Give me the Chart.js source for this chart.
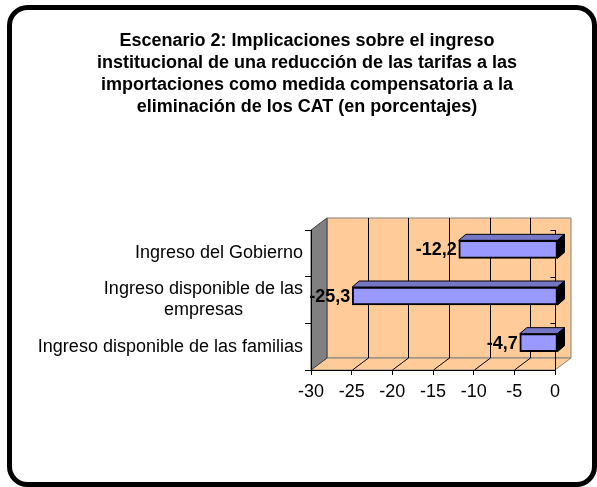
<!DOCTYPE html>
<html>
<head>
<meta charset="utf-8">
<script src="https://cdn.jsdelivr.net/npm/chart.js@4.4.0/dist/chart.umd.min.js"></script>
<style>
    html, body { margin: 0; padding: 0; background: #fff; }
    canvas { display: block; }
</style>
</head>
<body>
<canvas id="myChart" width="597" height="487"></canvas>
<script>
// data
const titleLines = [
    'Escenario 2: Implicaciones sobre el ingreso',
    'institucional de una reducción de las tarifas a las',
    'importaciones como medida compensatoria a la',
    'eliminación de los CAT (en porcentajes)'
];
const categories = [
    ['Ingreso del Gobierno'],
    ['Ingreso disponible de las', 'empresas'],
    ['Ingreso disponible de las familias']
];
const values = [-12.2, -25.3, -4.7];
const valueLabels = ['-12,2', '-25,3', '-4,7'];
const xMin = -30;
const xMax = 0;
const xStep = 5;

const FONT = "'Liberation Sans', Arial, sans-serif";
const depth = { dx: 16, dy: -12 };   // walls
const barDepth = { dx: 7, dy: -6 };  // bars
const barShift = { dx: 3, dy: -4 };

function poly(ctx, pts, fill, stroke) {
    ctx.beginPath();
    ctx.moveTo(pts[0][0], pts[0][1]);
    for (let i = 1; i < pts.length; i++) ctx.lineTo(pts[i][0], pts[i][1]);
    ctx.closePath();
    if (fill) { ctx.fillStyle = fill; ctx.fill(); }
    if (stroke) { ctx.strokeStyle = stroke; ctx.lineWidth = 1; ctx.stroke(); }
}

const walls3d = {
    id: 'walls3d',
    beforeDraw(chart) {
        const ctx = chart.ctx;
        const { left, right, top, bottom } = chart.chartArea;
        const { dx, dy } = depth;
        const xs = chart.scales.x;
        ctx.save();
        // frame
        ctx.lineWidth = 5;
        ctx.strokeStyle = '#000';
        ctx.beginPath();
        ctx.roundRect(9.5, 7.5, 585, 477, 18);
        ctx.stroke();

        // title
        ctx.fillStyle = '#000';
        ctx.font = 'bold 18px ' + FONT;
        ctx.textAlign = 'center';
        ctx.textBaseline = 'middle';
        titleLines.forEach((t, i) => ctx.fillText(t, 307, 41 + i * 22));

        // back wall, floor, side wall
        poly(ctx, [[left + dx, top + dy], [right + dx, top + dy], [right + dx, bottom + dy], [left + dx, bottom + dy]], '#FFCC99', '#808080');
        poly(ctx, [[left, bottom], [left + dx, bottom + dy], [right + dx, bottom + dy], [right, bottom]], '#FFCC99', '#808080');
        poly(ctx, [[left, top], [left + dx, top + dy], [left + dx, bottom + dy], [left, bottom]], '#808080', '#404040');

        // grid lines on the wall and the floor
        ctx.strokeStyle = '#000';
        ctx.lineWidth = 1;
        for (let v = xMin + xStep; v < xMax; v += xStep) {
            const x = Math.round(xs.getPixelForValue(v)) + 0.5;
            ctx.beginPath();
            ctx.moveTo(x + dx, top + dy);
            ctx.lineTo(x + dx, bottom + dy);
            ctx.moveTo(x, bottom);
            ctx.lineTo(x + dx, bottom + dy);
            ctx.stroke();
        }
        ctx.restore();
    },
    beforeDatasetsDraw(chart) {
        const ctx = chart.ctx;
        const { top, bottom } = chart.chartArea;
        const x0 = Math.round(chart.scales.x.getPixelForValue(0)) + 0.5;
        const ys = chart.scales.y;
        ctx.save();
        ctx.strokeStyle = '#000';
        ctx.lineWidth = 1;
        ctx.beginPath();
        ctx.moveTo(x0, top);
        ctx.lineTo(x0, bottom);
        for (let i = 0; i < categories.length; i++) {
            const y = Math.round(ys.getPixelForValue(i) - (ys.getPixelForValue(1) - ys.getPixelForValue(0)) / 2) + 0.5;
            ctx.moveTo(x0 - 5, y);
            ctx.lineTo(x0, y);
        }
        ctx.stroke();
        ctx.restore();
        ctx.save();
        ctx.translate(barShift.dx, barShift.dy);
    },
    afterDatasetsDraw(chart) {
        const ctx = chart.ctx;
        const meta = chart.getDatasetMeta(0);
        const { dx, dy } = barDepth;
        meta.data.forEach((bar, i) => {
            const l = Math.min(bar.x, bar.base);
            const r = Math.max(bar.x, bar.base);
            const t = bar.y - bar.height / 2;
            const b = bar.y + bar.height / 2;
            poly(ctx, [[l, t], [l + dx, t + dy], [r + dx, t + dy], [r, t]], '#7676C6', '#000');
            poly(ctx, [[r, t], [r + dx, t + dy], [r + dx, b + dy], [r, b]], '#000', '#000');
            ctx.fillStyle = '#000';
            ctx.font = 'bold 18px ' + FONT;
            ctx.textAlign = 'right';
            ctx.textBaseline = 'middle';
            ctx.fillText(valueLabels[i], l - 2, bar.y + 1);
        });
        ctx.restore();

        // category labels
        const ys = chart.scales.y;
        ctx.save();
        ctx.fillStyle = '#000';
        ctx.font = '18px ' + FONT;
        ctx.textBaseline = 'middle';
        ctx.textAlign = 'center';
        const rightEdge = 303;
        categories.forEach((lines, i) => {
            const yc = ys.getPixelForValue(i);
            const w = Math.max(...lines.map(s => ctx.measureText(s).width));
            const cx = rightEdge - w / 2;
            const lh = 21;
            lines.forEach((s, j) => {
                ctx.fillText(s, cx, yc + (j - (lines.length - 1) / 2) * lh);
            });
        });
        ctx.restore();
    }
};

const contex = document.getElementById('myChart').getContext('2d');

let chart = new Chart(contex, {
    type: 'bar',
    data: {
        labels: categories.map(c => c.join(' ')),
        datasets: [
            {
                label: 'Escenario 2',
                data: values,
                backgroundColor: '#9999FF',
                borderColor: '#000',
                borderWidth: 2,
                borderSkipped: false,
                barThickness: 18
            }
        ]
    },
    options: {
        indexAxis: 'y',
        responsive: false,
        animation: false,
        devicePixelRatio: 1,
        layout: { padding: { top: 230, right: 42, left: 0, bottom: 0 } },
        plugins: {
            legend: { display: false },
            tooltip: { enabled: false }
        },
        scales: {
            x: {
                min: xMin,
                max: xMax,
                ticks: {
                    stepSize: xStep,
                    color: '#000',
                    font: { family: FONT, size: 18 },
                    padding: 6
                },
                grid: { drawOnChartArea: false, color: '#000', tickLength: 5 },
                border: { color: '#000' },
                afterFit(scale) { scale.height = 117; }
            },
            y: {
                ticks: { display: false },
                grid: { drawOnChartArea: false, color: '#000', tickLength: 6 },
                border: { color: '#000' },
                afterFit(scale) { scale.width = 311; }
            }
        }
    },
    plugins: [walls3d]
});
</script>
</body>
</html>
